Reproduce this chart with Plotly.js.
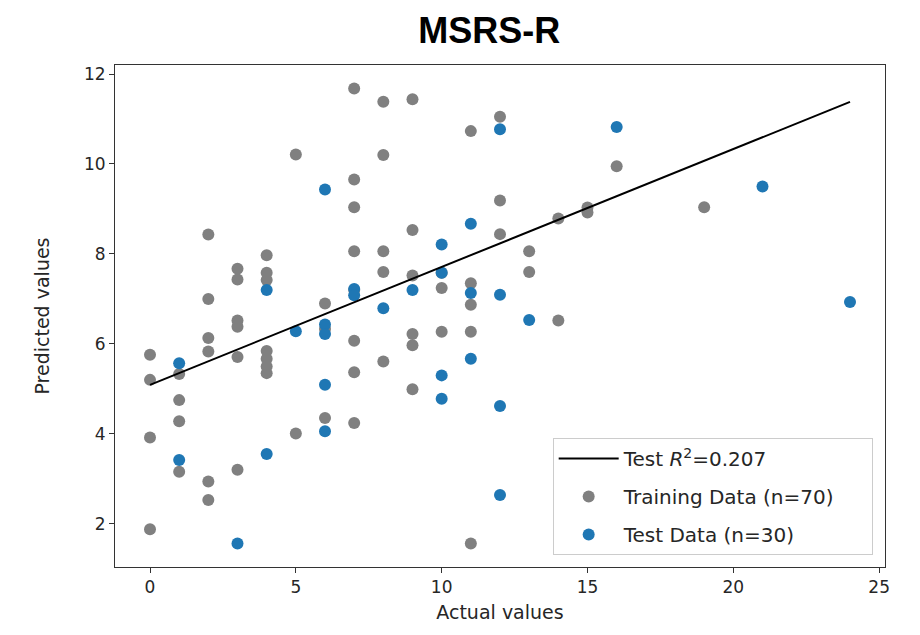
<!DOCTYPE html>
<html>
<head>
<meta charset="utf-8">
<script src="https://cdn.plot.ly/plotly-3.0.1.min.js"></script>
<style>html,body{margin:0;padding:0;background:#fff;}#chart{width:920px;height:635px;}</style>
</head>
<body>
<div id="chart"></div>
<script>
// Training data (grey)
const trainX = [0,0,0,0, 1,1,1,1, 2,2,2,2,2,2, 3,3,3,3,3,3, 4,4,4,4,4,4,4, 5,5, 6,6,6, 7,7,7,7,7,7,7,7, 8,8,8,8,8, 9,9,9,9,9,9, 10,10,10, 11,11,11,11,11, 12,12,12, 13,13, 14,14, 15,15, 16, 19];
const trainY = [5.76,5.2,3.92,1.88, 5.33,4.75,4.28,3.16, 8.43,7.0,6.13,5.83,2.94,2.53, 7.67,7.43,6.52,6.38,5.71,3.2, 7.97,7.58,7.42,5.84,5.67,5.5,5.35, 10.21,4.01, 6.9,4.35,6.33, 11.68,9.655,9.04,8.06,7.2,6.07,5.37,4.24, 11.385,10.2,8.06,7.6,5.61, 11.44,8.53,7.52,6.22,5.97,4.99, 7.24,6.27,7.58, 10.73,7.35,6.87,6.27,1.56, 11.05,9.19,8.44, 8.06,7.6, 8.79,6.52, 9.03,8.92, 9.95, 9.04];
// Test data (blue)
const testX = [1,1, 3, 4,4, 5, 6,6,6,6,6, 7,7, 8, 9, 10,10,10,10, 11,11,11, 12,12,12,12, 13, 16, 21, 24];
const testY = [5.57,3.42, 1.56, 7.2,3.55, 6.28, 9.43,6.43,6.22,5.09,4.06, 7.22,7.08, 6.79, 7.2, 8.21,7.58,5.3,4.78, 8.67,7.13,5.67, 10.77,7.09,4.62,2.64, 6.53, 10.82, 9.5, 6.93];
// Fit line
const lineX = [0, 24];
const lineY = [5.09, 11.38];
const xTicks = [0,5,10,15,20,25];
const yTicks = [2,4,6,8,10,12];

const pad = '&nbsp;&nbsp;&nbsp;&nbsp;&nbsp;';
const font = {family: 'DejaVu Sans, sans-serif', size: 17, color: '#262626'};

const traces = [
  {x: trainX, y: trainY, mode: 'markers', type: 'scatter', name: 'Training Data (n=70)' + pad,
   marker: {color: '#808080', size: 12}, legendrank: 2, legendgroup: 'g2'},
  {x: testX, y: testY, mode: 'markers', type: 'scatter', name: 'Test Data (n=30)' + pad,
   marker: {color: '#1f77b4', size: 12}, legendrank: 3, legendgroup: 'g3'},
  {x: lineX, y: lineY, mode: 'lines', type: 'scatter', name: 'Test <i>R</i><sup>2</sup>=0.207' + pad,
   line: {color: '#000000', width: 2}, legendrank: 1, legendgroup: 'g1'}
];

const layout = {
  width: 920, height: 635,
  margin: {l: 115, r: 35, t: 65, b: 68},
  paper_bgcolor: '#ffffff', plot_bgcolor: '#ffffff',
  font: font,
  title: {text: '<b>MSRS-R</b>', x: 0.486, xref: 'paper', xanchor: 'center', y: 0.952, yanchor: 'middle',
          font: {family: 'Liberation Sans, Arial, sans-serif', size: 36, color: '#000'}},
  xaxis: {range: [-1.2, 25.2], tickvals: xTicks, ticktext: xTicks.map(String),
          showgrid: false, zeroline: false, showline: true, mirror: true, linecolor: '#333', linewidth: 1,
          ticks: 'outside', ticklen: 5, tickcolor: '#333',
          title: {text: 'Actual values', font: {size: 19}, standoff: 9}},
  yaxis: {range: [1.04, 12.2], tickvals: yTicks, ticktext: yTicks.map(String),
          showgrid: false, zeroline: false, showline: true, mirror: true, linecolor: '#333', linewidth: 1,
          ticks: 'outside', ticklen: 5, tickcolor: '#333',
          title: {text: 'Predicted values', font: {size: 19}, standoff: 29}},
  legend: {x: 0.984, y: 0.024, xanchor: 'right', yanchor: 'bottom', traceorder: 'grouped', tracegroupgap: 9,
           bgcolor: 'rgba(255,255,255,0.85)', bordercolor: '#cccccc', borderwidth: 1,
           font: {size: 20, color: '#262626'}, itemwidth: 60},
  showlegend: true
};

Plotly.newPlot('chart', traces, layout, {displayModeBar: false, staticPlot: true});
</script>
</body>
</html>
